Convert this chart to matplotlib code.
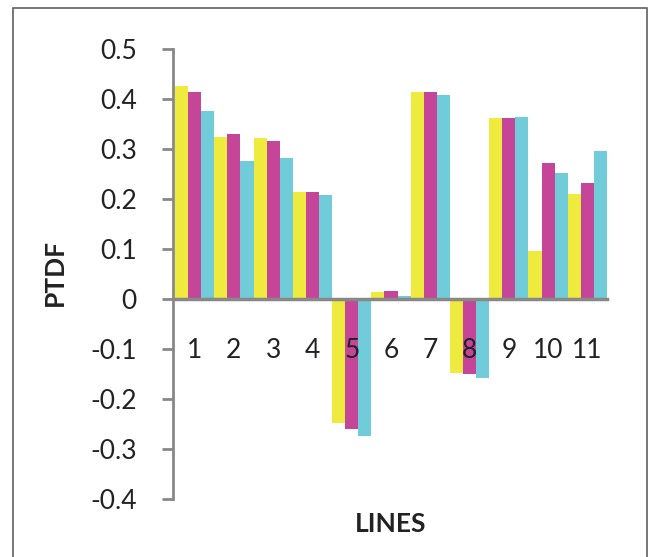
import numpy as np
import matplotlib
matplotlib.use("Agg")
import matplotlib.pyplot as plt
from matplotlib.patches import Rectangle

lineas = ["1", "2", "3", "4", "5", "6", "7", "8", "9", "10", "11"]
serie_a = [0.427, 0.324, 0.323, 0.215, -0.247, 0.015, 0.415, -0.148, 0.363, 0.097, 0.210]
serie_b = [0.415, 0.331, 0.317, 0.215, -0.259, 0.017, 0.415, -0.149, 0.363, 0.273, 0.233]
serie_c = [0.376, 0.277, 0.283, 0.209, -0.273, 0.007, 0.408, -0.157, 0.364, 0.253, 0.297]
yticks = [0.5, 0.4, 0.3, 0.2, 0.1, 0, -0.1, -0.2, -0.3, -0.4]
ytick_labels = ["0.5", "0.4", "0.3", "0.2", "0.1", "0", "-0.1", "-0.2", "-0.3", "-0.4"]

colores = ["#EEEA3E", "#C54598", "#70CCD9"]
gris = "#888888"

plt.rcParams["font.family"] = ["Lato", "DejaVu Sans"]

fig = plt.figure(figsize=(6.5, 5.57), dpi=100)
ax = fig.add_axes([173 / 650, 1 - 499 / 557, 434 / 650, 450 / 557])

x = np.arange(len(lineas))
w = 1 / 3.0
for k, serie in enumerate([serie_a, serie_b, serie_c]):
    ax.bar(x - w + k * w, serie, width=w, color=colores[k], linewidth=0, zorder=2)

ax.set_xlim(-0.551, 10.5)
ax.set_ylim(-0.4, 0.5)

ax.spines["top"].set_visible(False)
ax.spines["right"].set_visible(False)
ax.spines["left"].set_color(gris)
ax.spines["left"].set_linewidth(2)
ax.spines["bottom"].set_color(gris)
ax.spines["bottom"].set_linewidth(2.5)
ax.spines["bottom"].set_position(("data", 0))
ax.spines["bottom"].set_zorder(3)

ax.set_yticks(yticks)
ax.set_yticklabels(ytick_labels)
ax.tick_params(axis="y", length=8, width=2, color=gris, labelsize=19, pad=18, labelcolor="#222222")
ax.set_xticks(x)
ax.set_xticklabels(lineas)
ax.tick_params(axis="x", length=0, labelsize=19, pad=28, labelcolor="#222222")
# los numeros de las lineas van encima de las barras
ax.xaxis.set_zorder(5)

fig.text(55 / 650, 1 - 273 / 557, "PTDF", rotation=90, fontsize=19, fontweight="bold",
         ha="center", va="center", color="#222222")
fig.text(391 / 650, 1 - 524 / 557, "LINES", fontsize=19, fontweight="bold",
         ha="center", va="center", color="#222222")

borde = Rectangle((13 / 650, -0.02), 634 / 650, 1.0065, transform=fig.transFigure,
                  fill=False, edgecolor="#606060", linewidth=1.2, clip_on=False)
fig.patches.append(borde)

fig.savefig("out.png", dpi=100)
